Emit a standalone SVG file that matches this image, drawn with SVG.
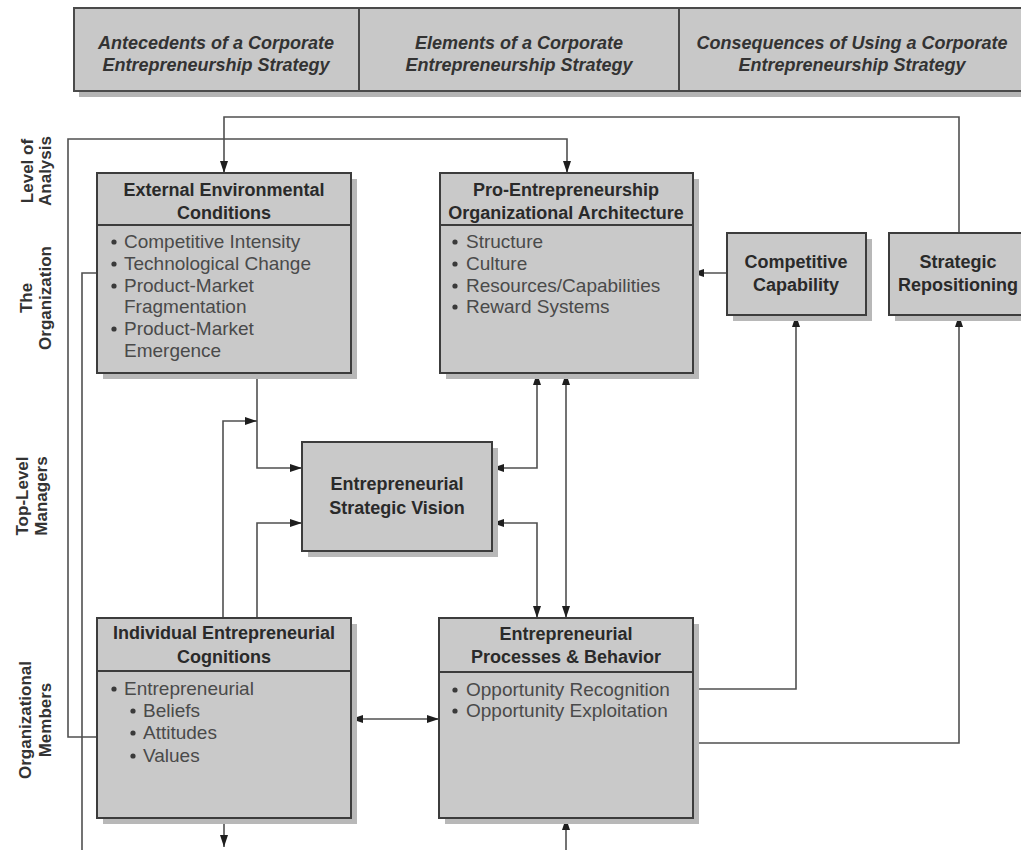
<svg xmlns="http://www.w3.org/2000/svg" width="1021" height="850" viewBox="0 0 1021 850">
<defs>
<marker id="arr" viewBox="0 0 12 8" refX="12" refY="4" markerWidth="12" markerHeight="8" markerUnits="userSpaceOnUse" orient="auto-start-reverse">
<path d="M0,0 L12,4 L0,8 z" fill="#1e1e1e"/>
</marker>
<style>
.box{fill:#c9c9c9;stroke:#3c3c3c;stroke-width:2}
.shd{fill:#b8b8b8}
.div{stroke:#3c3c3c;stroke-width:2}
.ttl{font-family:"Liberation Sans",Arial,sans-serif;font-size:18px;font-weight:bold;fill:#2a2a2a;text-anchor:middle}
.itm{font-family:"Liberation Sans",Arial,sans-serif;font-size:19px;fill:#4a4a4a}
.hdr{font-family:"Liberation Sans",Arial,sans-serif;font-size:18px;font-weight:bold;font-style:italic;fill:#333;text-anchor:middle}
.lvl{font-family:"Liberation Sans",Arial,sans-serif;font-size:17px;font-weight:bold;fill:#333;text-anchor:middle}
.ln{fill:none;stroke:#505050;stroke-width:1.6}
.bul{fill:#3a3a3a}
</style>
</defs>
<rect width="1021" height="850" fill="#ffffff"/>

<g id="header">
<rect x="79" y="14" width="950" height="83" fill="#b4b4b4"/>
<rect x="74" y="8" width="955" height="83" fill="#c8c8c8" stroke="#4a4a4a" stroke-width="2"/>
<line x1="359" y1="8" x2="359" y2="91" stroke="#4a4a4a" stroke-width="2"/>
<line x1="679" y1="8" x2="679" y2="91" stroke="#4a4a4a" stroke-width="2"/>
<text class="hdr" x="216" y="49">Antecedents of a Corporate</text>
<text class="hdr" x="216" y="71">Entrepreneurship Strategy</text>
<text class="hdr" x="519" y="49">Elements of a Corporate</text>
<text class="hdr" x="519" y="71">Entrepreneurship Strategy</text>
<text class="hdr" x="852" y="49">Consequences of Using a Corporate</text>
<text class="hdr" x="852" y="71">Entrepreneurship Strategy</text>
</g>

<g id="levels">
<text class="lvl" transform="translate(33,171) rotate(-90)">Level of</text>
<text class="lvl" transform="translate(51,171) rotate(-90)">Analysis</text>
<text class="lvl" transform="translate(32,298) rotate(-90)">The</text>
<text class="lvl" transform="translate(51,298) rotate(-90)">Organization</text>
<text class="lvl" transform="translate(28,496) rotate(-90)">Top-Level</text>
<text class="lvl" transform="translate(47,496) rotate(-90)">Managers</text>
<text class="lvl" transform="translate(31,720) rotate(-90)">Organizational</text>
<text class="lvl" transform="translate(51,720) rotate(-90)">Members</text>
</g>

<g id="connectors">
<path class="ln" d="M959,233 V117 H224 V173" marker-end="url(#arr)"/>
<path class="ln" d="M97,737 H68 V139 H567 V173" marker-end="url(#arr)"/>
<path class="ln" d="M97,273 H82 V852"/>
<path class="ln" d="M257,373 V468 H302" marker-end="url(#arr)"/>
<path class="ln" d="M223,618 V421 H257" marker-end="url(#arr)"/>
<path class="ln" d="M257,618 V523 H302" marker-end="url(#arr)"/>
<path class="ln" d="M492,468 H537 V373" marker-start="url(#arr)" marker-end="url(#arr)"/>
<path class="ln" d="M492,523 H537 V618" marker-start="url(#arr)" marker-end="url(#arr)"/>
<path class="ln" d="M566,373 V618" marker-start="url(#arr)" marker-end="url(#arr)"/>
<path class="ln" d="M351,719 H439" marker-start="url(#arr)" marker-end="url(#arr)"/>
<path class="ln" d="M693,689 H796 V315" marker-end="url(#arr)"/>
<path class="ln" d="M693,743 H959 V315" marker-end="url(#arr)"/>
<path class="ln" d="M727,273 H692" marker-end="url(#arr)"/>
<path class="ln" d="M224,818 V847" marker-end="url(#arr)"/>
<path class="ln" d="M566,852 V818" marker-end="url(#arr)"/>
</g>

<g id="external">
<rect class="shd" x="103" y="179" width="254" height="200"/>
<rect class="box" x="97" y="173" width="254" height="200"/>
<line class="div" x1="97" y1="225" x2="351" y2="225"/>
<text class="ttl" x="224" y="196">External Environmental</text>
<text class="ttl" x="224" y="219">Conditions</text>
<circle class="bul" cx="114" cy="242" r="2.6"/>
<text class="itm" x="124" y="248">Competitive Intensity</text>
<circle class="bul" cx="114" cy="264" r="2.6"/>
<text class="itm" x="124" y="270">Technological Change</text>
<circle class="bul" cx="114" cy="286" r="2.6"/>
<text class="itm" x="124" y="292">Product-Market</text>
<text class="itm" x="124" y="313">Fragmentation</text>
<circle class="bul" cx="114" cy="329" r="2.6"/>
<text class="itm" x="124" y="335">Product-Market</text>
<text class="itm" x="124" y="357">Emergence</text>
</g>

<g id="architecture">
<rect class="shd" x="446" y="179" width="253" height="200"/>
<rect class="box" x="440" y="173" width="253" height="200"/>
<line class="div" x1="440" y1="225" x2="693" y2="225"/>
<text class="ttl" x="566" y="196">Pro-Entrepreneurship</text>
<text class="ttl" x="566" y="219">Organizational Architecture</text>
<circle class="bul" cx="455" cy="242" r="2.6"/>
<text class="itm" x="466" y="248">Structure</text>
<circle class="bul" cx="455" cy="264" r="2.6"/>
<text class="itm" x="466" y="270">Culture</text>
<circle class="bul" cx="455" cy="286" r="2.6"/>
<text class="itm" x="466" y="292">Resources/Capabilities</text>
<circle class="bul" cx="455" cy="307" r="2.6"/>
<text class="itm" x="466" y="313">Reward Systems</text>
</g>

<g id="competitive">
<rect class="shd" x="733" y="239" width="139" height="82"/>
<rect class="box" x="727" y="233" width="139" height="82"/>
<text class="ttl" x="796" y="268">Competitive</text>
<text class="ttl" x="796" y="291">Capability</text>
</g>

<g id="repositioning">
<rect class="shd" x="895" y="239" width="140" height="82"/>
<rect class="box" x="889" y="233" width="140" height="82"/>
<text class="ttl" x="958" y="268">Strategic</text>
<text class="ttl" x="958" y="291">Repositioning</text>
</g>

<g id="vision">
<rect class="shd" x="308" y="448" width="190" height="109"/>
<rect class="box" x="302" y="442" width="190" height="109"/>
<text class="ttl" x="397" y="490">Entrepreneurial</text>
<text class="ttl" x="397" y="514">Strategic Vision</text>
</g>

<g id="cognitions">
<rect class="shd" x="103" y="624" width="254" height="200"/>
<rect class="box" x="97" y="618" width="254" height="200"/>
<line class="div" x1="97" y1="671" x2="351" y2="671"/>
<text class="ttl" x="224" y="639">Individual Entrepreneurial</text>
<text class="ttl" x="224" y="663">Cognitions</text>
<circle class="bul" cx="114" cy="689" r="2.6"/>
<text class="itm" x="124" y="695">Entrepreneurial</text>
<circle class="bul" cx="133" cy="711" r="2.6"/>
<text class="itm" x="143" y="717">Beliefs</text>
<circle class="bul" cx="133" cy="733" r="2.6"/>
<text class="itm" x="143" y="739">Attitudes</text>
<circle class="bul" cx="133" cy="756" r="2.6"/>
<text class="itm" x="143" y="762">Values</text>
</g>

<g id="processes">
<rect class="shd" x="445" y="624" width="254" height="200"/>
<rect class="box" x="439" y="618" width="254" height="200"/>
<line class="div" x1="439" y1="672" x2="693" y2="672"/>
<text class="ttl" x="566" y="640">Entrepreneurial</text>
<text class="ttl" x="566" y="663">Processes &amp; Behavior</text>
<circle class="bul" cx="455" cy="690" r="2.6"/>
<text class="itm" x="466" y="696">Opportunity Recognition</text>
<circle class="bul" cx="455" cy="711" r="2.6"/>
<text class="itm" x="466" y="717">Opportunity Exploitation</text>
</g>
</svg>
